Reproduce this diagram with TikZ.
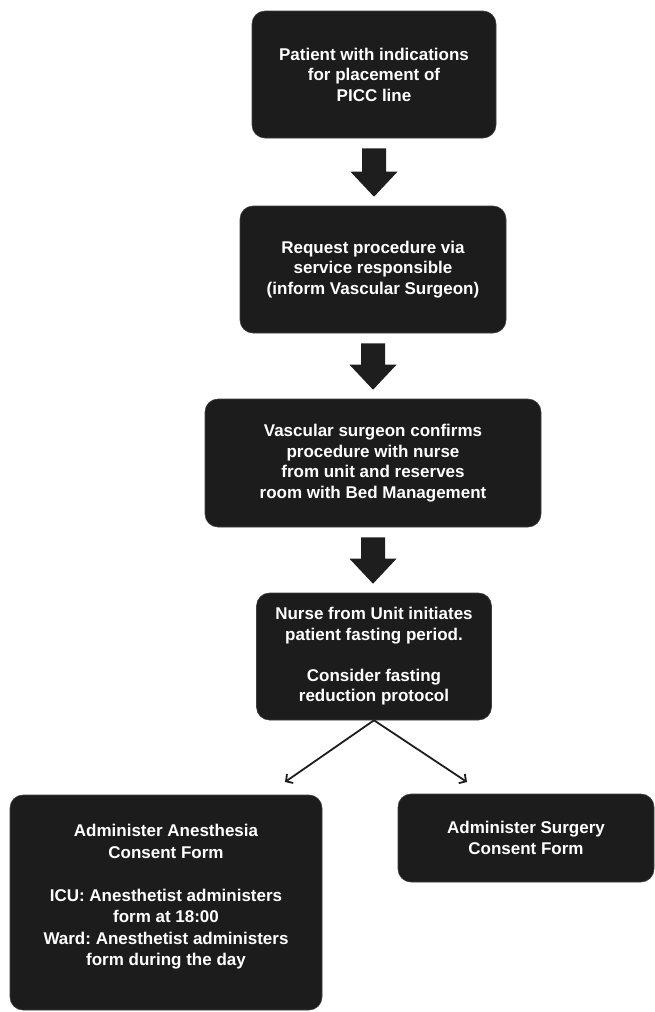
\documentclass[tikz,border=0pt]{standalone}
\usepackage{fontspec}
\setmainfont{Liberation Sans}[BoldFont={Liberation Sans Bold}]
\frenchspacing
\usetikzlibrary{arrows.meta,calc}
\definecolor{boxfill}{RGB}{28,28,28}
\definecolor{arrfill}{RGB}{30,30,30}
\newcommand{\blockarr}[2]{%
  \fill[arrfill] let \p1=($(#1.south)+(0,10)$), \p2=($(#2.north)+(0,-9)$) in
   (\x1-12pt,\y1) -- (\x1+12pt,\y1) -- (\x1+12pt,\y2+25pt) -- (\x1+23.5pt,\y2+25pt)
   -- (\x1,\y2) -- (\x1-23.5pt,\y2+25pt) -- (\x1-12pt,\y2+25pt) -- cycle;}
\begin{document}
\begin{tikzpicture}[x=1pt,y=-1pt,
  box/.style={fill=boxfill, draw=boxfill!85!white, line width=0.6pt, rounded corners=13pt,
    text=white, font=\bfseries\frenchspacing\fontsize{17}{20.5}\selectfont, align=center, inner sep=0pt},
  boxtext/.style={text=white, font=\bfseries\frenchspacing\fontsize{17}{21.5}\selectfont, align=center, inner sep=0pt},
  thinarrow/.style={draw=arrfill, line width=1.8pt, -{Straight Barb[length=5pt,width=11pt,line width=1.8pt]}}
]
\useasboundingbox (0,0) rectangle (655,1012);

\node[box, minimum width=244pt, minimum height=127pt] (b1) at (374,74.5)
  {Patient with indications\\for placement of\\PICC line};
\node[box, minimum width=266pt, minimum height=127pt] (b2) at (373,269.5)
  {Request procedure via\\service responsible\\(inform Vascular Surgeon)};
\node[box, minimum width=336pt, minimum height=128pt] (b3) at (373,463)
  {Vascular surgeon confirms\\procedure with nurse\\from unit and reserves\\room with Bed Management};
\node[box, minimum width=235pt, minimum height=127pt] (b4) at (374,656.5)
  {Nurse from Unit initiates\\patient fasting period.\\[20.5pt]Consider fasting\\reduction protocol};
\node[box, minimum width=312pt, minimum height=215pt] (b5) at (166,902.5) {};
\node[boxtext, anchor=north] (t5) at (166,824)
  {Administer Anesthesia\\Consent Form\\[21.5pt]ICU: Anesthetist administers\\form at 18:00\\Ward: Anesthetist administers\\form during the day};
\node[box, minimum width=256pt, minimum height=88pt] (b6) at (526,838)
  {Administer Surgery\\Consent Form};

\blockarr{b1}{b2}
\blockarr{b2}{b3}
\blockarr{b3}{b4}

\coordinate (tL) at (285,782);
\coordinate (tR) at (467,782);
\draw[thinarrow] (b4.south) -- (tL);
\draw[thinarrow] (b4.south) -- (tR);
\end{tikzpicture}
\end{document}
